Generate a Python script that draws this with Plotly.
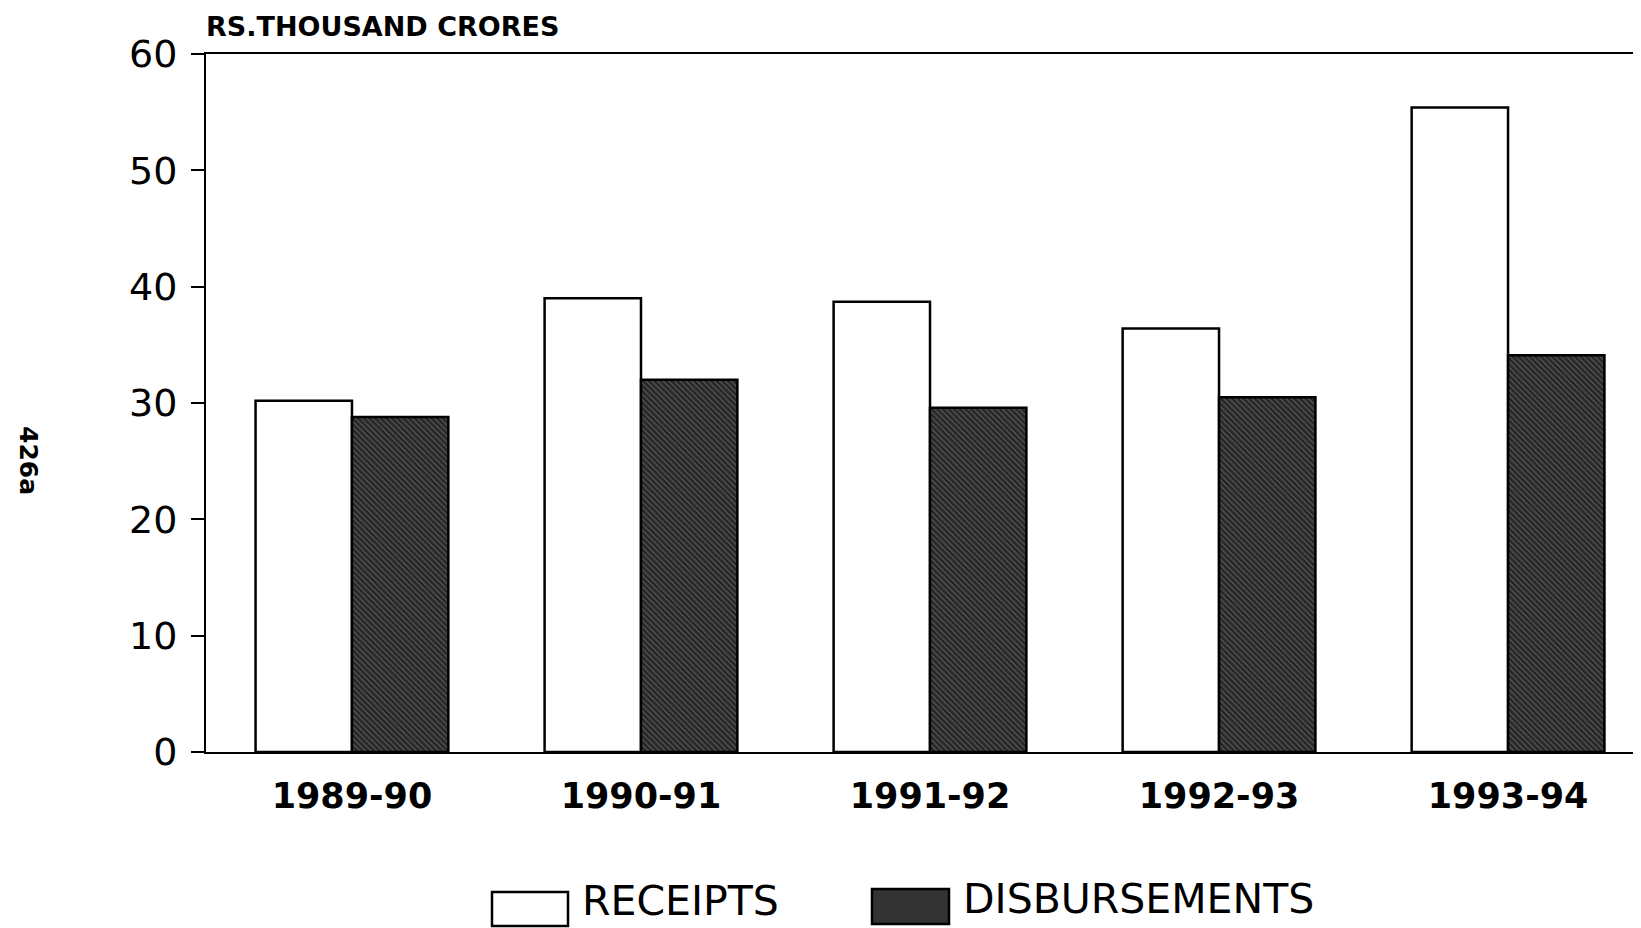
import plotly.graph_objects as go

# data (Rs. thousand crores)
years = ["1989-90", "1990-91", "1991-92", "1992-93", "1993-94"]
receipts = [30.2, 39.0, 38.7, 36.4, 55.4]
disbursements = [28.8, 32.0, 29.6, 30.5, 34.1]
y_ticks = [0, 10, 20, 30, 40, 50, 60]

# page has an 8px body margin, so the figure is sized to fit inside it
OFF = 8
W, H = 1641 - OFF, 928 - OFF
ML, MR, MT, MB = 206 - OFF, 0, 54 - OFF, 928 - 752


def px_x(p):
    # page pixel -> paper x
    return (p - OFF - ML) / (W - ML - MR)


def px_y(p):
    # page pixel -> paper y
    return (H - MB - (p - OFF)) / (H - MT - MB)


fig = go.Figure()
fig.add_trace(go.Bar(
    x=years, y=receipts, name="RECEIPTS",
    marker=dict(color="white", line=dict(color="black", width=2.5)),
))
fig.add_trace(go.Bar(
    x=years, y=disbursements, name="DISBURSEMENTS",
    marker=dict(color="#262626", line=dict(color="black", width=2.5),
                pattern=dict(shape="\\", fgcolor="#8c8c8c", bgcolor="#262626",
                             size=4, solidity=0.3)),
))

fig.update_layout(
    width=W, height=H,
    margin=dict(l=ML, r=MR, t=MT, b=MB),
    paper_bgcolor="white", plot_bgcolor="white",
    barmode="group", bargap=0.333, bargroupgap=0,
    showlegend=False,
    hovermode=False,
    font=dict(family="DejaVu Sans", color="black"),
    xaxis=dict(
        type="category", range=[-0.505, 4.46],
        showline=True, linecolor="black", linewidth=2, mirror=True,
        ticks="", showgrid=False,
        tickfont=dict(family="DejaVu Sans", size=35, weight="bold"),
        ticklabelstandoff=12,
    ),
    yaxis=dict(
        range=[0, 60], tickvals=y_ticks,
        showline=True, linecolor="black", linewidth=2,
        ticks="outside", ticklen=13, tickwidth=2, tickcolor="black",
        showgrid=False, zeroline=False,
        tickfont=dict(family="DejaVu Sans", size=38),
        ticklabelstandoff=6,
    ),
    yaxis2=dict(
        range=[0, 60], tickvals=y_ticks, overlaying="y", anchor="x", side="left",
        ticks="inside", ticklen=13, tickwidth=2, tickcolor="black",
        showticklabels=False, showgrid=False, zeroline=False, showline=False,
    ),
)

# axis title at top left
fig.add_annotation(
    text="RS.THOUSAND CRORES", xref="paper", yref="paper",
    x=px_x(204), y=px_y(OFF + 1), xanchor="left", yanchor="top",
    showarrow=False, font=dict(size=27, weight="bold"),
)

# page number in the margin
fig.add_annotation(
    text="426a", xref="paper", yref="paper",
    x=px_x(28), y=px_y(460), xanchor="center", yanchor="middle",
    textangle=90, showarrow=False, font=dict(size=25, weight="bold"),
)

# legend drawn large, as in the original
fig.add_shape(type="rect", xref="paper", yref="paper",
              x0=px_x(492), x1=px_x(568), y0=px_y(926), y1=px_y(892),
              line=dict(color="black", width=2.5), fillcolor="white")
fig.add_annotation(text="RECEIPTS", xref="paper", yref="paper",
                   x=px_x(580), y=px_y(927), xanchor="left", yanchor="bottom",
                   showarrow=False, font=dict(size=41))
fig.add_shape(type="rect", xref="paper", yref="paper",
              x0=px_x(872), x1=px_x(949), y0=px_y(924), y1=px_y(889),
              line=dict(color="black", width=2.5), fillcolor="#333333")
fig.add_annotation(text="DISBURSEMENTS", xref="paper", yref="paper",
                   x=px_x(961), y=px_y(925), xanchor="left", yanchor="bottom",
                   showarrow=False, font=dict(size=41))

fig.write_html("out.html")
